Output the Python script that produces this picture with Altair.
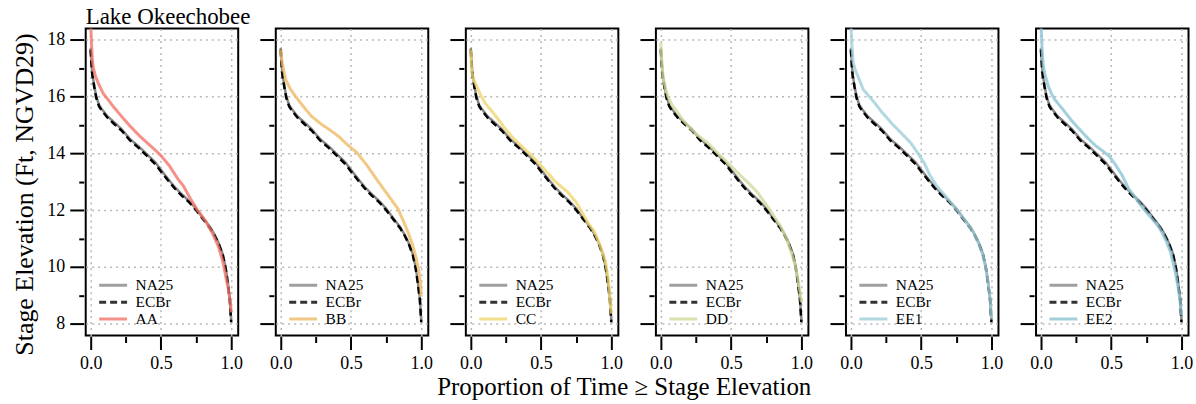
import altair as alt
import pandas as pd

FONT = "Liberation Serif"

# ---- baseline series (same in every panel) ----
na25_p = [0.0, 0.005, 0.012, 0.025, 0.04, 0.06, 0.08, 0.12, 0.17, 0.22, 0.28, 0.34, 0.41, 0.46, 0.50,
          0.55, 0.60, 0.65, 0.70, 0.75, 0.80, 0.85, 0.88, 0.91, 0.94, 0.96, 0.975, 0.99, 1.0]
na25_s = [17.7, 17.3, 16.8, 16.4, 16.0, 15.7, 15.55, 15.3, 15.08, 14.85, 14.5, 14.25, 13.92, 13.68, 13.42,
          13.1, 12.8, 12.55, 12.32, 12.05, 11.72, 11.4, 11.15, 10.85, 10.45, 10.0, 9.5, 8.9, 8.1]
ecbr_p = [0.0, 0.005, 0.012, 0.025, 0.04, 0.06, 0.08, 0.12, 0.17, 0.22, 0.28, 0.34, 0.41, 0.46, 0.50,
          0.55, 0.60, 0.65, 0.70, 0.75, 0.80, 0.85, 0.88, 0.91, 0.94, 0.96, 0.975, 0.99, 1.0]
ecbr_s = [17.65, 17.2, 16.75, 16.35, 15.95, 15.65, 15.5, 15.25, 15.02, 14.8, 14.45, 14.2, 13.86, 13.62, 13.36,
          13.05, 12.75, 12.5, 12.28, 12.0, 11.68, 11.36, 11.12, 10.82, 10.42, 9.96, 9.45, 8.85, 8.05]

# ---- alternatives ----
alt_names = ["AA", "BB", "CC", "DD", "EE1", "EE2"]
alt_colors = ["#F2766B", "#EDBB66", "#F0D66E", "#D3D99C", "#9FD0DA", "#8CC4D3"]

aa_p = [0.0, 0.005, 0.012, 0.02, 0.035, 0.056, 0.09, 0.13, 0.16, 0.22, 0.28, 0.35, 0.44, 0.50, 0.56,
        0.62, 0.66, 0.71, 0.76, 0.82, 0.87, 0.91, 0.94, 0.96, 0.98, 0.995, 1.0]
aa_s = [18.6, 18.0, 17.3, 17.0, 16.7, 16.45, 16.1, 15.85, 15.65, 15.3, 14.96, 14.6, 14.2, 13.92, 13.56,
        13.1, 12.85, 12.4, 12.0, 11.6, 11.15, 10.7, 10.2, 9.7, 9.2, 8.7, 8.4]

bb_p = [0.0, 0.01, 0.035, 0.07, 0.106, 0.16, 0.22, 0.29, 0.35, 0.41, 0.47, 0.54, 0.61, 0.69, 0.76,
        0.835, 0.87, 0.905, 0.94, 0.965, 0.985, 0.995, 1.0]
bb_s = [17.65, 17.2, 16.6, 16.25, 16.0, 15.65, 15.3, 15.02, 14.82, 14.6, 14.32, 14.03, 13.6, 13.03, 12.55,
        12.04, 11.65, 11.23, 10.75, 10.28, 9.8, 9.4, 8.95]

cc_p = [0.0, 0.007, 0.02, 0.042, 0.07, 0.10, 0.15, 0.195, 0.24, 0.29, 0.35, 0.41, 0.46, 0.50, 0.55,
        0.595, 0.65, 0.69, 0.72, 0.75, 0.80, 0.84, 0.88, 0.92, 0.96, 0.98, 0.995, 1.0]
cc_s = [17.65, 16.85, 16.6, 16.36, 16.05, 15.78, 15.48, 15.2, 14.9, 14.6, 14.3, 14.03, 13.78, 13.56, 13.3,
        13.03, 12.8, 12.63, 12.45, 12.28, 11.85, 11.5, 11.23, 10.75, 10.17, 9.5, 8.6, 8.35]

dd_p = [0.0, 0.006, 0.016, 0.03, 0.05, 0.08, 0.12, 0.16, 0.216, 0.27, 0.33, 0.39, 0.45, 0.51, 0.57,
        0.63, 0.686, 0.756, 0.80, 0.85, 0.89, 0.92, 0.945, 0.967, 0.985, 1.0]
dd_s = [17.9, 17.3, 16.7, 16.35, 16.0, 15.7, 15.43, 15.15, 14.84, 14.6, 14.38, 14.08, 13.79, 13.5, 13.2,
        12.92, 12.63, 12.15, 11.82, 11.45, 11.05, 10.63, 10.25, 9.82, 9.3, 8.75]

ee1_p = [0.0, 0.005, 0.01, 0.017, 0.03, 0.05, 0.087, 0.13, 0.168, 0.22, 0.285, 0.35, 0.425, 0.47, 0.52,
         0.56, 0.61, 0.68, 0.74, 0.80, 0.87, 0.91, 0.94, 0.96, 0.975, 0.99, 1.0]
ee1_s = [18.6, 18.0, 17.6, 17.18, 16.95, 16.71, 16.25, 16.0, 15.78, 15.45, 15.08, 14.75, 14.37, 14.05, 13.67,
         13.25, 12.85, 12.45, 12.09, 11.72, 11.23, 10.8, 10.4, 9.95, 9.5, 8.9, 8.2]

ee2_p = [0.0, 0.005, 0.01, 0.017, 0.03, 0.052, 0.075, 0.098, 0.157, 0.21, 0.274, 0.33, 0.39, 0.44, 0.485,
         0.53, 0.58, 0.625, 0.67, 0.72, 0.78, 0.84, 0.885, 0.92, 0.955, 0.975, 0.99, 1.0]
ee2_s = [18.6, 18.0, 17.5, 17.06, 16.75, 16.36, 16.1, 15.89, 15.54, 15.2, 14.84, 14.55, 14.26, 14.08, 13.9,
         13.6, 13.2, 12.74, 12.45, 12.1, 11.75, 11.4, 10.98, 10.55, 9.82, 9.3, 8.8, 8.3]

alt_p = [aa_p, bb_p, cc_p, dd_p, ee1_p, ee2_p]
alt_s = [aa_s, bb_s, cc_s, dd_s, ee1_s, ee2_s]

x_scale = alt.Scale(domain=[-0.035, 1.05], nice=False, zero=False)
y_scale = alt.Scale(domain=[7.58, 18.39], nice=False, zero=False)

W, H = 153, 308


def long_df(name, ps, ss):
    return pd.DataFrame({"series": name, "p": ps, "s": ss, "i": list(range(len(ps)))})


def panel(k):
    name = alt_names[k]
    df = pd.concat([long_df("NA25", na25_p, na25_s),
                    long_df("ECBr", ecbr_p, ecbr_s),
                    long_df(name, alt_p[k], alt_s[k])], ignore_index=True)
    dom = ["NA25", "ECBr", name]
    leg = alt.Legend(title=None, orient="none", legendX=12, legendY=249,
                     labelFont=FONT, labelFontSize=15.5, labelColor="black",
                     symbolType="stroke", symbolSize=784, symbolStrokeWidth=3,
                     clipHeight=17, rowPadding=0, labelOffset=7, padding=0)
    color = alt.Color("series:N", scale=alt.Scale(domain=dom, range=["#888888", "#000000", alt_colors[k]]),
                      legend=leg)
    dash = alt.StrokeDash("series:N", scale=alt.Scale(domain=dom, range=[[1, 0], [7, 4], [1, 0]]),
                          legend=leg)

    ax_y = alt.Axis(values=[8, 10, 12, 14, 16, 18], tickSize=14, tickWidth=2, tickColor="black",
                    domain=False, offset=2, labels=(k == 0), labelFont=FONT, labelFontSize=18,
                    labelColor="black", labelPadding=5, grid=True, gridDash=[2, 4], gridColor="#b8b8b8",
                    gridWidth=1.5,
                    title="Stage Elevation (Ft, NGVD29)" if k == 0 else None,
                    titleFont=FONT, titleFontSize=26, titleFontWeight="normal", titleColor="black",
                    titlePadding=9, titleY=166)
    ax_x = alt.Axis(values=[0, 0.5, 1.0], format=".1f", tickSize=13, tickWidth=2, tickColor="black",
                    domain=False, offset=1, labelFont=FONT, labelFontSize=18, labelColor="black",
                    labelPadding=5, grid=True, gridDash=[2, 4], gridColor="#b8b8b8", gridWidth=1.5,
                    title=None, labelFlush=False)
    ax_y_minor = alt.Axis(values=[9, 11, 13, 15, 17], tickSize=5, tickWidth=2, tickColor="black",
                          domain=False, offset=2, labels=False, grid=False, title=None, orient="left")
    ax_x_minor = alt.Axis(values=[0.25, 0.75], tickSize=6, tickWidth=2, tickColor="black",
                          domain=False, offset=1, labels=False, grid=False, title=None, orient="bottom")

    base = alt.Chart(df)
    l_na = base.transform_filter(alt.datum.series == "NA25").mark_line(strokeWidth=2.5, clip=True).encode(
        x=alt.X("p:Q", scale=x_scale, axis=ax_x), y=alt.Y("s:Q", scale=y_scale, axis=ax_y),
        color=color, strokeDash=dash, order="i:Q")
    l_ec = base.transform_filter(alt.datum.series == "ECBr").mark_line(strokeWidth=2.5, clip=True).encode(
        x=alt.X("p:Q", scale=x_scale, axis=None), y=alt.Y("s:Q", scale=y_scale, axis=None),
        color=color, strokeDash=dash, order="i:Q")
    l_alt = base.transform_filter(alt.datum.series == name).mark_line(strokeWidth=3, clip=True,
                                                                      opacity=0.8).encode(
        x=alt.X("p:Q", scale=x_scale, axis=None), y=alt.Y("s:Q", scale=y_scale, axis=None),
        color=color, strokeDash=dash, order="i:Q")
    minor = base.mark_line(opacity=0, clip=True).encode(
        x=alt.X("p:Q", scale=x_scale, axis=ax_x_minor), y=alt.Y("s:Q", scale=y_scale, axis=ax_y_minor),
        detail="series:N")
    props = dict(width=W, height=H)
    if k == 0:
        props["title"] = alt.TitleParams("Lake Okeechobee", anchor="start", frame="group", font=FONT,
                                         fontSize=23, fontWeight="normal", color="black", offset=0)
    return alt.layer(l_na, l_ec, l_alt, minor).resolve_axis(x="independent", y="independent").properties(
        **props)


chart = alt.hconcat(*[panel(k) for k in range(6)], spacing=37.7, bounds="flush").resolve_scale(
    color="independent", strokeDash="independent").properties(
    title=alt.TitleParams("Proportion of Time \u2265 Stage Elevation", orient="bottom", anchor="middle",
                          font=FONT, fontSize=25, fontWeight="normal", color="black",
                          offset=2, dx=22),
    padding={"left": 11, "top": 4, "right": 2, "bottom": 2}
).configure(font=FONT).configure_view(stroke="black", strokeWidth=2)

chart.save("out.html", embed_options={"renderer": "svg", "actions": False})
